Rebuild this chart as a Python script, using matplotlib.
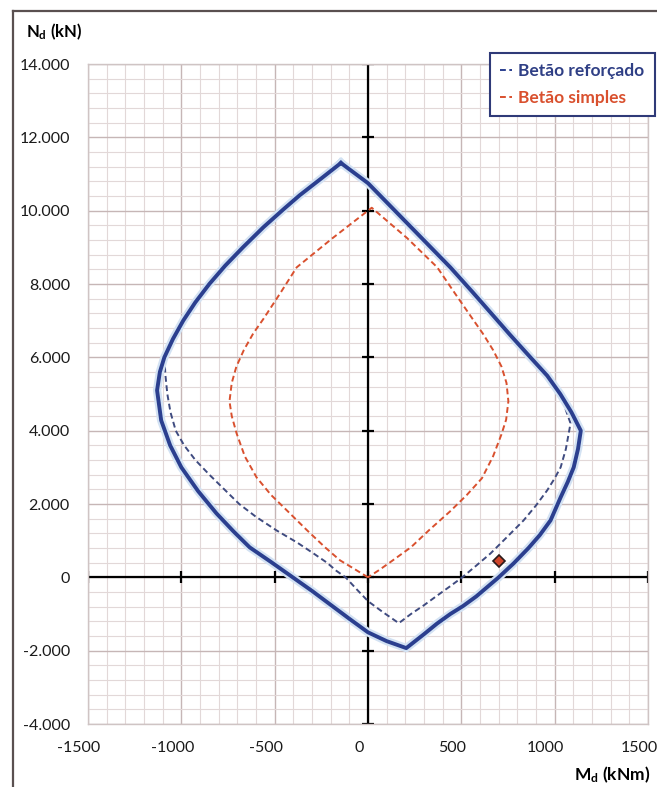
import matplotlib
matplotlib.use("Agg")
import matplotlib.pyplot as plt
import matplotlib.patheffects as pe
import matplotlib.transforms as mtransforms
from matplotlib.lines import Line2D
from matplotlib.ticker import MultipleLocator, FuncFormatter

plt.rcParams['font.family'] = ['Lato', 'DejaVu Sans']
plt.rcParams['mathtext.fontset'] = 'custom'
plt.rcParams['mathtext.rm'] = 'Lato:bold'
plt.rcParams['mathtext.it'] = 'Lato:bold'
plt.rcParams['mathtext.bf'] = 'Lato:bold'
plt.rcParams['mathtext.default'] = 'regular'

# envolvente (betão reforçado) - linha cheia
env_M = [-145, 0, 441, 560, 660, 760, 870, 960, 1030, 1090, 1140, 1125, 1102, 1070, 1032,
         978, 920, 860, 780, 700, 640, 580, 510, 441, 370, 300, 250, 205, 150, 100, 0,
         -100, -200, -300, -403, -520, -634, -720, -812, -910, -1000, -1060, -1108, -1130,
         -1115, -1091, -1045, -990, -925, -850, -765, -670, -560, -450, -366, -250, -145]
env_N = [11300, 10750, 8454, 7780, 7200, 6620, 6000, 5500, 5000, 4500, 4000, 3500, 3000, 2600, 2182,
         1554, 1150, 800, 380, 0, -260, -520, -780, -1000, -1260, -1550, -1750, -1930, -1830, -1740, -1500,
         -1130, -750, -370, 0, 420, 818, 1250, 1745, 2350, 3000, 3600, 4281, 5100,
         5600, 6000, 6500, 7000, 7500, 8000, 8500, 9000, 9550, 10050, 10420, 10880, 11300]

# betão reforçado - tracejado (parte inferior)
ref_M = [-1091, -1085, -1075, -1058, -1030, -985, -925, -850, -770, -690, -600, -490, -380,
         -300, -220, -170, -120, -60, 0, 80, 165, 230, 300, 370, 441, 505, 580, 656, 745,
         833, 900, 960, 1000, 1032, 1060, 1085, 1040, 966]
ref_N = [6000, 5500, 5000, 4500, 4000, 3600, 3200, 2800, 2400, 2000, 1650, 1280, 950,
         680, 400, 180, 0, -330, -650, -950, -1250, -1000, -760, -500, -240, 0, 320, 650, 1100,
         1550, 1960, 2373, 2700, 3000, 3500, 4200, 4850, 5400]

# betão simples
simp_M = [0, -80, -150, -230, -330, -435, -520, -597, -660, -704, -730, -742, -730, -705,
          -665, -615, -560, -470, -382, -190, 20, 210, 371, 465, 560, 615, 670, 715, 742,
          752, 740, 715, 670, 610, 530, 440, 330, 230, 118, 60, 0]
simp_N = [0, 250, 464, 818, 1300, 1827, 2250, 2727, 3300, 3927, 4400, 4800, 5300, 5750,
          6200, 6650, 7050, 7750, 8454, 9250, 10080, 9250, 8454, 7750, 7050, 6650, 6200, 5750, 5300,
          4800, 4300, 3900, 3300, 2700, 2250, 1800, 1300, 820, 409, 200, 0]

# esforço actuante
pt_M = [700]
pt_N = [450]

x_ticks = [-1500, -1000, -500, 0, 500, 1000, 1500]
y_ticks = [-4000, -2000, 0, 2000, 4000, 6000, 8000, 10000, 12000, 14000]

W, H = 657, 787
fig = plt.figure(figsize=(W / 100, H / 100), dpi=100)
ax = fig.add_axes([88 / W, 1 - 724 / H, (648 - 88) / W, (724 - 64) / H])

ax.set_xlim(-1500, 1500)
ax.set_ylim(-4000, 14000)
ax.set_xticks(x_ticks)
ax.set_yticks(y_ticks)
ax.xaxis.set_minor_locator(MultipleLocator(100))
ax.yaxis.set_minor_locator(MultipleLocator(400))
ax.grid(which='major', color='#c6b6b6', lw=1.0)
ax.grid(which='minor', color='#e2d8d8', lw=0.8)
ax.set_axisbelow(True)
ax.tick_params(which='both', length=0)
ax.tick_params(axis='x', pad=12, labelsize=11.5, labelcolor='#1a1a1a')
ax.tick_params(axis='y', pad=13, labelsize=11.5, labelcolor='#1a1a1a')
ax.yaxis.set_major_formatter(FuncFormatter(lambda v, p: f"{v:,.0f}".replace(",", ".")))
ax.xaxis.set_major_formatter(FuncFormatter(lambda v, p: f"{v:.0f}"))
shift = mtransforms.ScaledTranslation(-9 / 100, 0, fig.dpi_scale_trans)
for lab in ax.get_xticklabels():
    lab.set_transform(lab.get_transform() + shift)
for s in ax.spines.values():
    s.set_color('#cfc4c4')
    s.set_linewidth(1.0)

# eixos centrais com marcas
ax.axhline(0, color='black', lw=1.6, zorder=2)
ax.axvline(0, color='black', lw=1.6, zorder=2)
ax.plot(x_ticks, [0] * len(x_ticks), ls='none', marker='|', ms=8, mew=1.6, color='black', zorder=2)
ax.plot([0] * len(y_ticks), y_ticks, ls='none', marker='_', ms=8, mew=1.6, color='black', zorder=2)

ax.plot(simp_M, simp_N, color='#d9502e', lw=1.4, ls=(0, (3, 1.8)), zorder=3)
ax.plot(ref_M, ref_N, color='#3f4b80', lw=1.4, ls=(0, (3, 1.8)), zorder=3)
ax.plot(env_M, env_N, color='#2b3f8f', lw=2.8, zorder=4,
        path_effects=[pe.Stroke(linewidth=6, foreground='#d3e2f3'), pe.Normal()])
ax.plot(pt_M, pt_N, ls='none', marker='D', ms=6.5, mfc='#d0452a', mec='#2a1a1a', mew=1.2, zorder=5)

handles = [Line2D([], [], color='#2b3f8f', lw=1.4, ls=(0, (3, 1.8))),
           Line2D([], [], color='#d9502e', lw=1.4, ls=(0, (3, 1.8)))]
leg = ax.legend(handles, ['Betão reforçado', 'Betão simples'], loc='upper right',
                bbox_to_anchor=(655 / W, 1 - 53 / H), bbox_transform=fig.transFigure,
                fancybox=False, framealpha=1, edgecolor='#2f3a78', handlelength=0.7,
                handletextpad=0.35, borderpad=0.6, labelspacing=0.6, borderaxespad=0,
                prop={'weight': 'bold', 'size': 12.5}, labelcolor=['#2f3f85', '#d9502e'])
leg.get_frame().set_linewidth(1.5)

fig.text(26 / W, 1 - 32 / H, r'N$_{d}$ (kN)', fontsize=12, fontweight='bold', va='center', ha='left')
fig.text(650 / W, 1 - 775 / H, r'M$_{d}$ (kNm)', fontsize=12.5, fontweight='bold', va='center', ha='right')

# moldura
fig.add_artist(Line2D([13 / W, 13 / W], [0, 1 - 11 / H], color='#5a5050', lw=1.6))
fig.add_artist(Line2D([13 / W, 1], [1 - 11 / H, 1 - 11 / H], color='#5a5050', lw=1.6))

fig.savefig('out.png', dpi=100)
